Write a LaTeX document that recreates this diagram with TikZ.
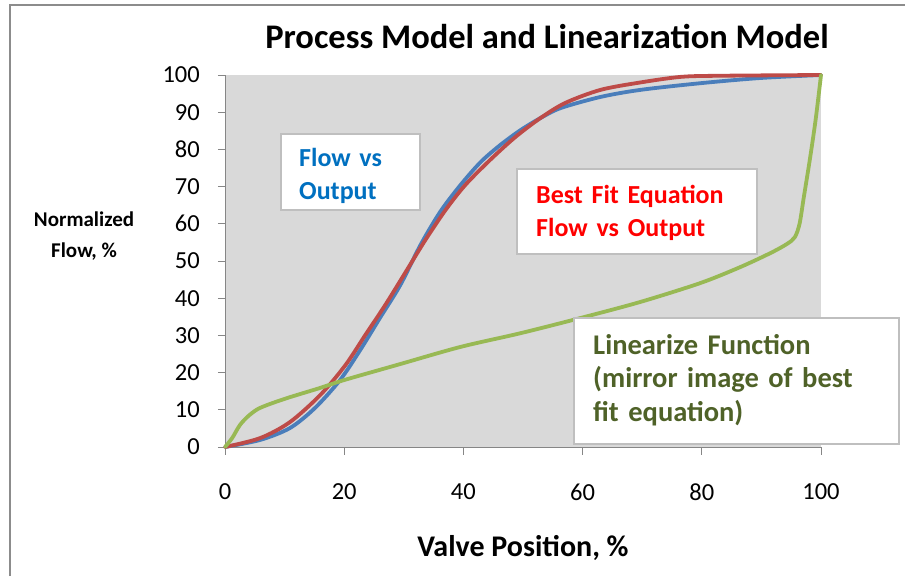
\documentclass[tikz,border=0pt]{standalone}
\usepackage{fontspec}
\setmainfont{Carlito}
\definecolor{plotbg}{HTML}{D9D9D9}
\definecolor{axisgray}{HTML}{868686}
\definecolor{framegray}{HTML}{8C8C8C}
\definecolor{boxgray}{HTML}{BFBFBF}
\definecolor{seriesblue}{HTML}{4A7EBB}
\definecolor{seriesred}{HTML}{BE4B48}
\definecolor{seriesgreen}{HTML}{98B954}
\definecolor{textblue}{HTML}{0070C0}
\definecolor{textred}{HTML}{FF0000}
\definecolor{textgreen}{HTML}{4F6228}
\begin{document}
\begin{tikzpicture}[x=1pt,y=-1pt,
  series/.style={line width=3.8pt, line cap=round, line join=round},
  notebox/.style={draw=boxgray, line width=1.6pt, fill=white, inner sep=0pt, anchor=north west},
  notetext/.style={anchor=base west, align=left, inner sep=0pt, font=\fontsize{26}{33}\selectfont\bfseries},
  ticklabel/.style={font=\fontsize{24.5}{28}\selectfont, inner sep=0pt},
  tickmark/.style={axisgray, line width=1pt},
]
\useasboundingbox (0,0) rectangle (905,576);
\fill[white] (0,0) rectangle (905,576);
% outer chart frame (top and left edges)
\draw[framegray, line width=2pt] (9.5,576) -- (9.5,4.5) -- (905,4.5);

\node[font=\fontsize{34.5}{40}\selectfont\bfseries, anchor=base, inner sep=0pt] (title) at (547,48) {Process Model and Linearization Model};

% plot area in data units: 0..100 on both axes
\begin{scope}[shift={(225pt,-447pt)}, x=5.96pt, y=3.72pt]
  \fill[plotbg] (0,0) rectangle (100,100);
  \draw[tickmark] (0,100) -- (0,0) -- (100,0);
  \foreach \v in {0,10,...,100} {
    \draw[tickmark] (-1.2,\v) -- (0,\v);
    \node[ticklabel, anchor=east] (ylab\v) at (-4.2,\v) {\v};
  }
  \foreach \v in {0,20,...,100} {
    \draw[tickmark] (\v,0) -- (\v,-2.2);
    \node[ticklabel] (xlab\v) at (\v,-12.1) {\v};
  }
  % measured flow vs output
  \draw[series, seriesblue] plot[smooth, tension=0.5] coordinates {
    (0,0) (5.9,1.9) (10.9,5.1) (15.1,10.5) (19.3,18) (22.7,26.1) (26,34.7)
    (29.4,43.5) (32.8,54.3) (36.1,63.2) (39.5,70.4) (42.9,76.6) (46.2,81.2)
    (49.6,85.2) (52.9,88.4) (56.3,91.1) (63,94.1) (69.7,96) (79.8,97.8)
    (89.9,99.2) (100,100)};
  % best fit equation
  \draw[series, seriesred] plot[smooth, tension=0.5] coordinates {
    (0,0) (5.9,2.4) (10.9,6.7) (16,14) (20.2,22) (23.5,30) (26.9,38.2)
    (30.3,47) (33.6,55.6) (37,63.7) (40.3,70.4) (44.5,77.2) (48.7,83.3)
    (52.9,88.4) (57.1,92.5) (63,96) (69.7,98) (76.5,99.5) (83.2,99.8) (100,100)};
  % linearize function
  \draw[series, seriesgreen] plot[smooth, tension=0.5] coordinates {
    (0,0) (1.2,2.4) (2.5,5.9) (3.9,8.3) (5.5,10.2) (7.6,11.6) (10.9,13.4)
    (16,15.9) (20,18) (29.4,22.3) (39.5,26.9) (49.6,30.6) (59.7,34.7)
    (69.7,39) (79.8,44.1) (86.5,48.4) (91.6,52.2) (94.3,54.6) (95.6,56.4)
    (96.4,60) (97.1,67) (98.1,77) (99.1,88) (100,100)};
\end{scope}

\node[font=\fontsize{21}{31}\selectfont\bfseries, align=center, inner sep=0pt] (ytitle) at (84,236) {Normalized\\Flow, \%};
\node[font=\fontsize{30}{34}\selectfont\bfseries, inner sep=0pt] (xtitle) at (523,548) {Valve Position, \%};

% annotation boxes
\node[notebox, minimum width=139pt, minimum height=76pt] (flowbox) at (280,133) {};
\node[notetext, text=textblue, text width=120pt] (flowtext) at (299,166.7) {Flow vs\\Output};

\node[notebox, minimum width=240pt, minimum height=85pt] (fitbox) at (516,168) {};
\node[notetext, text=textred, text width=220pt] (fittext) at (536,203.3) {Best Fit Equation\\Flow vs Output};

\node[notebox, minimum width=325pt, minimum height=126pt] (linbox) at (573,317) {};
\node[notetext, text=textgreen, text width=300pt, font=\fontsize{28.5}{33.5}\selectfont\bfseries] (lintext) at (593,354) {Linearize Function\\(mirror image of best\\fit equation)};
\end{tikzpicture}
\end{document}
